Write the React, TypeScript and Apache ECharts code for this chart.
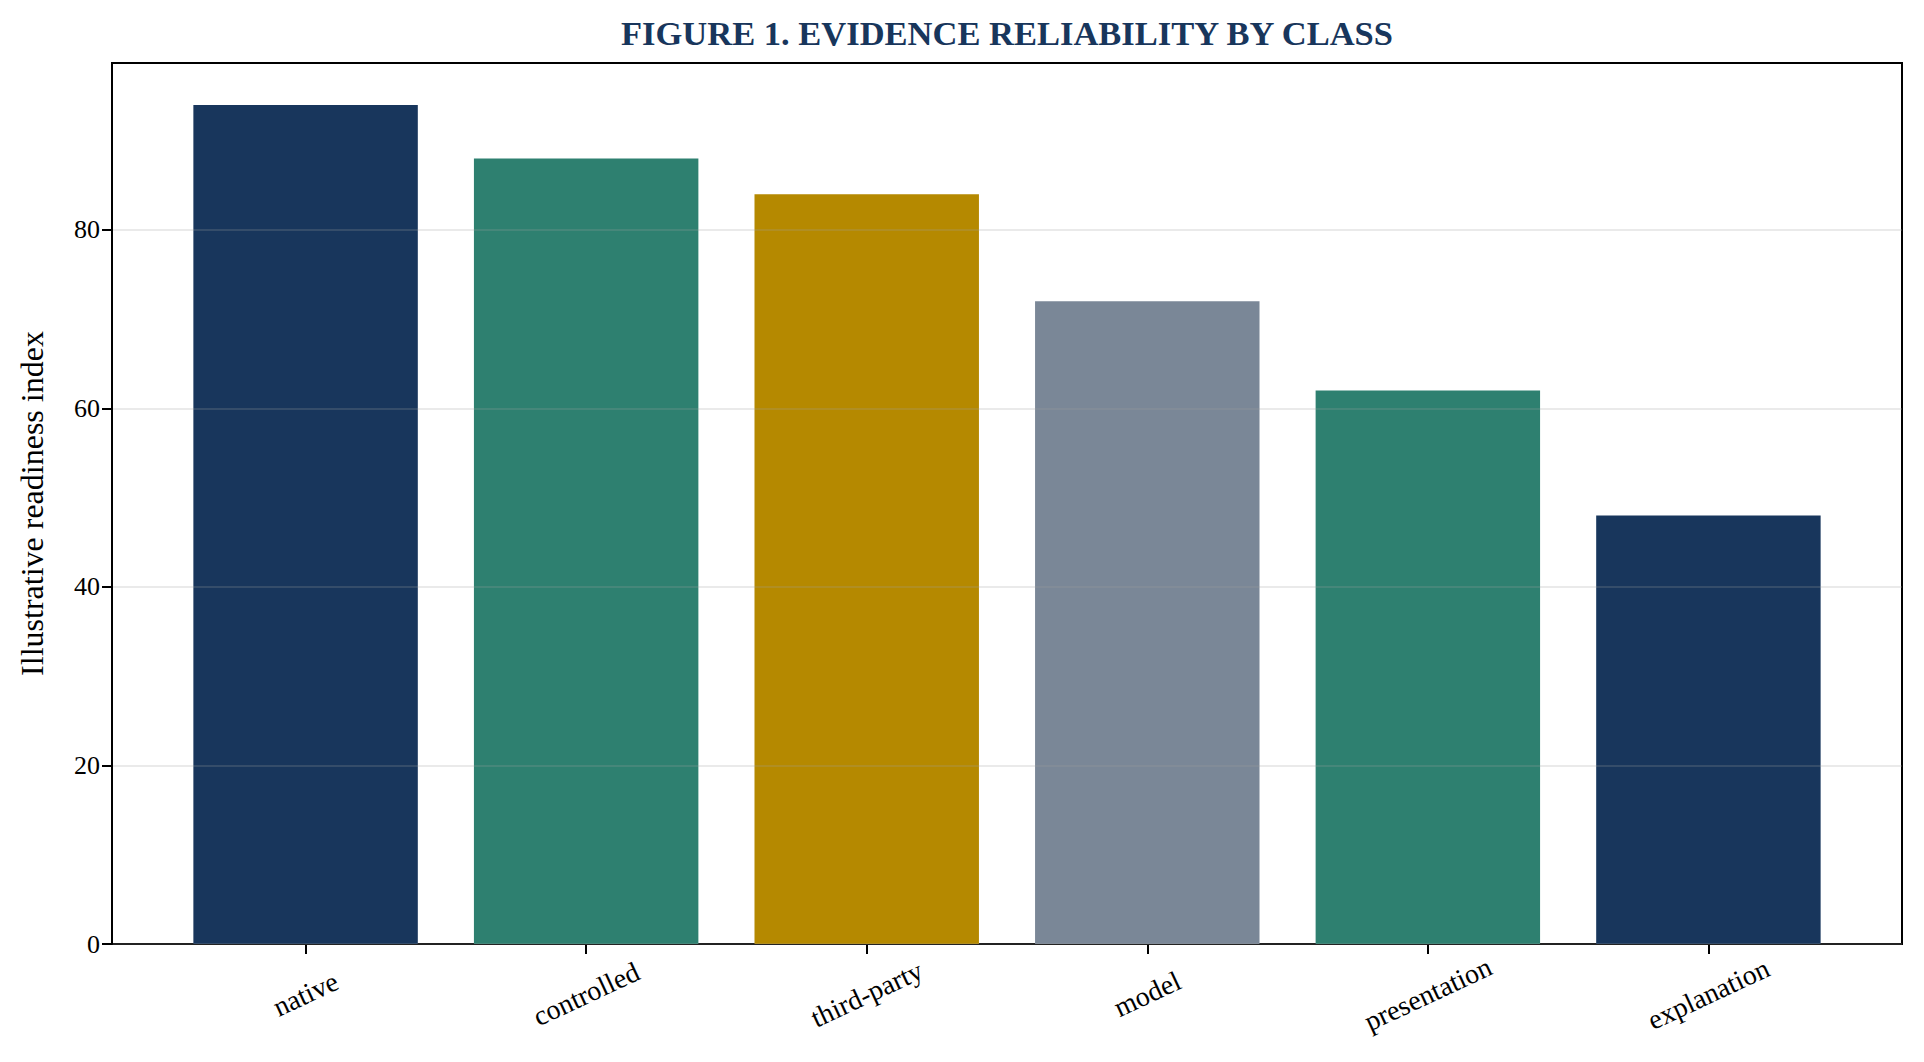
import React, { useEffect, useRef } from "react";
import * as echarts from "echarts";

const categories = ["native", "controlled", "third-party", "model", "presentation", "explanation"];
const readiness = [94, 88, 84, 72, 62, 48];
const barColors = ["#18365c", "#2e8070", "#b58900", "#7a8797", "#2e8070", "#18365c"];
const yTicks = [0, 20, 40, 60, 80];

const FONT = '"Liberation Serif", "Times New Roman", serif';

const App: React.FC = () => {
  const chartRef = useRef<HTMLDivElement>(null);

  useEffect(() => {
    if (!chartRef.current) return;
    const chart = echarts.init(chartRef.current, null, { renderer: "svg" });

    const gridLeft = 112;
    const gridRight = 22;
    const xMin = -0.69;
    const xMax = categories.length - 1 + 0.69;
    const plotWidth = chart.getWidth() - gridLeft - gridRight;
    const barWidth = (0.8 * plotWidth) / (xMax - xMin);

    chart.setOption({
      animation: false,
      backgroundColor: "#ffffff",
      textStyle: { fontFamily: FONT },
      graphic: [
        {
          type: "text",
          x: (gridLeft + chart.getWidth() - gridRight) / 2,
          y: 33,
          style: {
            text: "FIGURE 1. EVIDENCE RELIABILITY BY CLASS",
            align: "center",
            verticalAlign: "middle",
            fontSize: 34.5,
            fontWeight: "bold",
            fontFamily: FONT,
            fill: "#18365c",
          },
        },
      ],
      grid: {
        left: gridLeft,
        right: gridRight,
        top: 63,
        bottom: 118,
        show: true,
        borderColor: "#000",
        borderWidth: 2,
        backgroundColor: "transparent",
      },
      xAxis: {
        type: "value",
        min: xMin,
        max: xMax,
        axisLine: { show: true, onZero: false, lineStyle: { color: "#000", width: 2 } },
        axisTick: {
          show: true,
          length: 10,
          lineStyle: { color: "#000", width: 2 },
          customValues: categories.map((_, i) => i),
        },
        axisLabel: {
          customValues: categories.map((_, i) => i),
          formatter: (v: number) => categories[Math.round(v)] ?? "",
          rotate: 25,
          align: "center",
          verticalAlign: "middle",
          margin: 50,
          fontSize: 28,
          color: "#000",
          fontFamily: FONT,
        },
        splitLine: { show: false },
      },
      yAxis: {
        type: "value",
        min: 0,
        max: 98.7,
        interval: 20,
        z: 3,
        name: "Illustrative readiness index",
        nameLocation: "middle",
        nameRotate: 90,
        nameGap: 64,
        nameTextStyle: { fontSize: 32, color: "#000", fontFamily: FONT },
        axisLine: { show: true, onZero: false, lineStyle: { color: "#000", width: 2 } },
        axisTick: {
          show: true,
          length: 10,
          lineStyle: { color: "#000", width: 2 },
          customValues: yTicks,
        },
        axisLabel: {
          customValues: yTicks,
          margin: 12,
          fontSize: 26,
          color: "#000",
          fontFamily: FONT,
        },
        splitLine: {
          show: true,
          lineStyle: { color: "rgba(160,160,160,0.22)", width: 2 },
        },
      },
      series: [
        {
          type: "bar",
          barWidth,
          data: readiness.map((v, i) => ({
            value: [i, v],
            itemStyle: { color: barColors[i] },
          })),
        },
      ],
    });

    return () => {
      chart.dispose();
    };
  }, []);

  return (
    <div
      ref={chartRef}
      style={{
        position: "absolute",
        left: 0,
        top: 0,
        width: "1924px",
        height: "1062px",
        background: "#fff",
      }}
    ></div>
  );
};

export default App;
